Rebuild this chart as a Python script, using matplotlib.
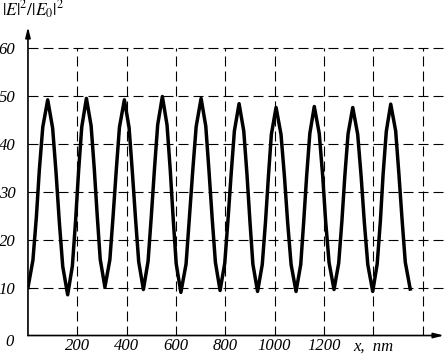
import numpy as np
import matplotlib.pyplot as plt

plt.rcParams['mathtext.fontset'] = 'stix'

# curve: x in nm, |E|^2/|E0|^2
x_nm = [0, 20, 34, 46, 60, 80,
        100, 114, 127, 141, 161,
        180, 193, 205, 218, 237,
        256, 269, 281, 293, 312,
        332, 345, 358, 371, 391,
        410, 423, 436, 449, 468,
        487, 500, 513, 526, 545,
        564, 577, 589, 601, 620,
        641, 654, 668, 682, 702,
        721, 734, 747, 760, 779,
        798, 811, 824, 837, 856,
        875, 888, 900, 912, 931,
        950, 963, 975, 987, 1006,
        1026, 1040, 1053, 1067, 1087,
        1106, 1118, 1130, 1143, 1161,
        1181, 1195, 1207, 1221, 1241,
        1260, 1273, 1285, 1298, 1317,
        1337, 1351, 1364, 1378, 1398,
        1416, 1429, 1440, 1453, 1471,
        1491, 1504, 1517, 1530, 1550]
intensity = [10.0, 15.7, 24.7, 34.5, 43.5, 49.2,
             43.3, 33.9, 23.8, 14.4, 8.5,
             14.5, 23.9, 34.1, 43.5, 49.5,
             43.8, 34.7, 24.9, 15.9, 10.1,
             15.8, 24.8, 34.5, 43.5, 49.2,
             43.4, 34.3, 24.5, 15.4, 9.6,
             15.5, 24.8, 34.8, 44.0, 49.9,
             43.9, 34.5, 24.3, 15.0, 9.0,
             14.9, 24.2, 34.3, 43.6, 49.5,
             43.7, 34.4, 24.4, 15.3, 9.4,
             15.1, 24.1, 33.8, 42.7, 48.4,
             42.7, 33.7, 23.9, 14.9, 9.2,
             14.8, 23.6, 33.2, 42.0, 47.6,
             42.0, 33.2, 23.6, 14.8, 9.2,
             14.8, 23.7, 33.3, 42.2, 47.8,
             42.2, 33.4, 23.9, 15.2, 9.6,
             15.1, 23.9, 33.4, 42.1, 47.6,
             42.0, 33.2, 23.6, 14.8, 9.2,
             14.9, 23.9, 33.6, 42.6, 48.3,
             42.7, 33.8, 24.2, 15.3, 9.7]

x_ticks = [200, 400, 600, 800, 1000, 1200, 1400]
x_labels = ['200', '400', '600', '800', '1000', '1200', 'x,  nm']
y_ticks = [10, 20, 30, 40, 50, 60]
x_grid = [200, 400, 600, 800, 1000, 1200, 1400, 1600]

fig = plt.figure(figsize=(4.44, 3.6), dpi=100)
ax = fig.add_axes([0.063, 0.068, 0.937, 0.857])
ax.set_xlim(0, 1687)
ax.set_ylim(0, 64.4)

dash = (0, (9, 4.5))
ax.hlines(y_ticks, 0, 1687, colors='k', lw=0.8, linestyles=[dash])
ax.vlines(x_grid, 0, 60, colors='k', lw=0.8, linestyles=[dash])

ax.plot(x_nm, intensity, color='k', lw=2.5, solid_joinstyle='round')

for s in ax.spines.values():
    s.set_visible(False)
ax.annotate('', xy=(1687, 0), xytext=(0, 0), xycoords='data',
            arrowprops=dict(arrowstyle='-|>,head_length=0.6,head_width=0.15',
                            color='k', lw=1.2, shrinkA=0, shrinkB=0),
            annotation_clip=False)
ax.annotate('', xy=(0, 64.4), xytext=(0, 0), xycoords='data',
            arrowprops=dict(arrowstyle='-|>,head_length=0.6,head_width=0.15',
                            color='k', lw=1.2, shrinkA=0, shrinkB=0),
            annotation_clip=False)

tfont = dict(family='Liberation Serif', style='italic', size=12)
ax.set_xticks(x_ticks)
ax.set_xticklabels(x_labels, **tfont)
ax.set_yticks(y_ticks)
ax.set_yticklabels([str(v) for v in y_ticks], **tfont)
ax.tick_params(length=0)
ax.tick_params(axis='x', pad=2)
ax.tick_params(axis='y', pad=9)

fig.text(10 / 444, 1 - 342 / 360, '0', ha='center', va='center', **tfont)
fig.text(2 / 444, 1 - 10 / 360, r'$|E|^2/|E_0|^2$', ha='left', va='center',
         fontsize=12.5)

fig.savefig('out.png', dpi=100)
